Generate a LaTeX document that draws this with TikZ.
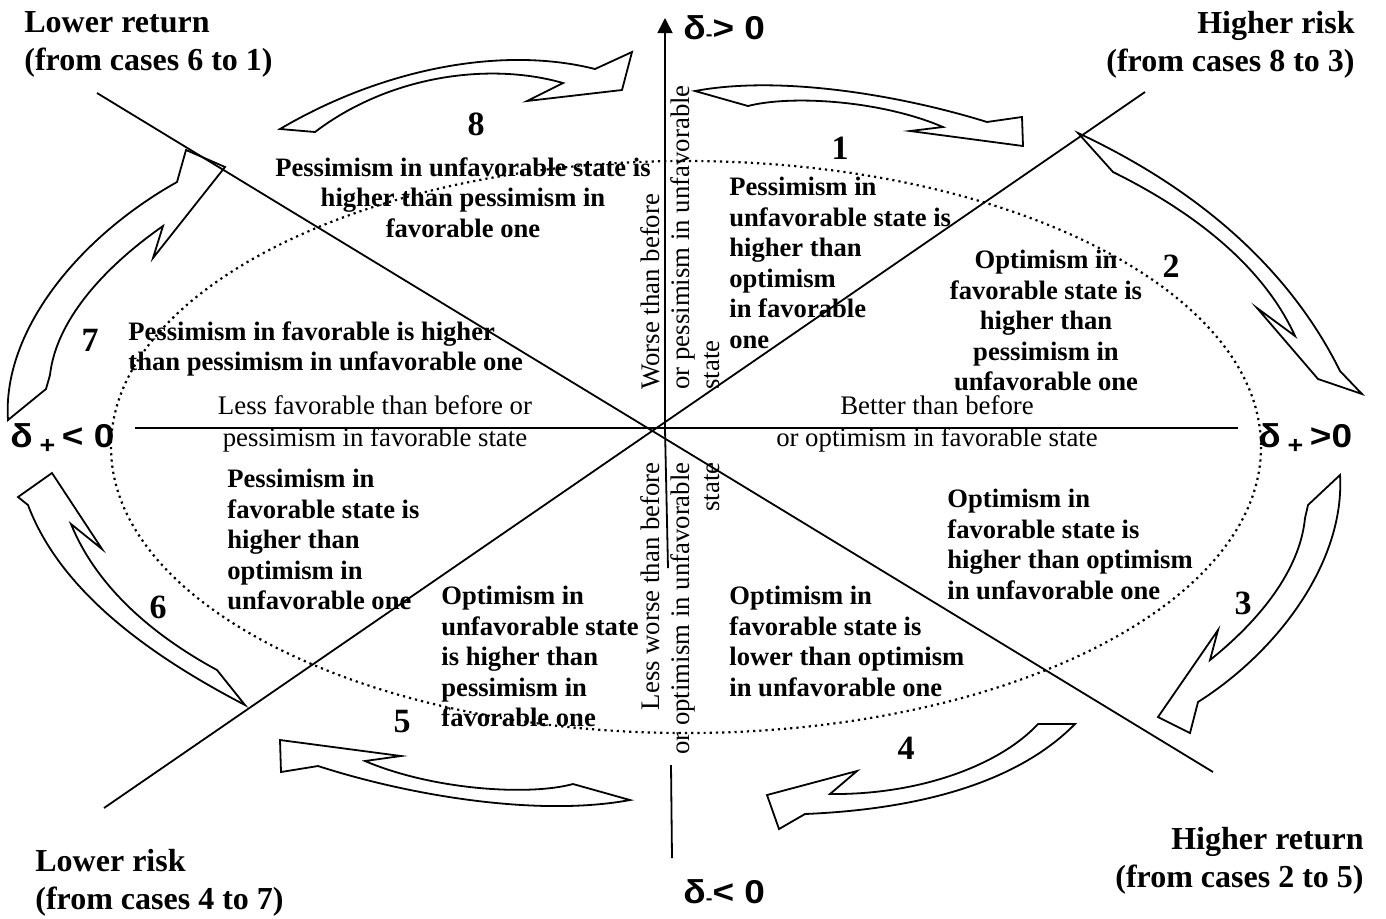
\documentclass[tikz,border=0pt]{standalone}
\usepackage{fontspec}
\setmainfont{Liberation Serif}
\setsansfont{Liberation Sans}
\usetikzlibrary{arrows.meta}
\newcommand{\dsb}[1]{\raisebox{-0.6pt}{\fontsize{9}{9}\selectfont #1}}
\newcommand{\dplus}{\raisebox{-3.4pt}{\fontsize{12}{12}\selectfont +}}
\tikzset{
  ax/.style={line width=0.9pt},
  barrow/.style={draw, line width=0.9pt, line join=miter},
  ell/.style={dotted, line width=1.1pt},
  body/.style={font=\fontsize{13.3}{15.25}\selectfont\bfseries, inner sep=0pt},
  axtxt/.style={font=\fontsize{13.4}{16}\selectfont, inner sep=0pt, align=center},
  vtxt/.style={font=\fontsize{13.4}{15}\selectfont, inner sep=0pt, rotate=90},
  corner/.style={font=\fontsize{16}{19}\selectfont\bfseries, inner sep=0pt},
  num/.style={font=\fontsize{17}{19}\selectfont\bfseries, inner sep=0pt},
  dlab/.style={font=\sffamily\bfseries\fontsize{16.5}{19}\selectfont, inner sep=0pt},
}
\begin{document}
\begin{tikzpicture}[x=0.5pt,y=-0.5pt]
\useasboundingbox (0,0) rectangle (1386,918);

% coordinates
\coordinate (C) at (665,429);
\coordinate (Vtop) at (665,18);
\coordinate (Vlow) at (668,568);
\coordinate (Vb1) at (671,765);
\coordinate (Vb2) at (672,858);
\coordinate (Hl) at (135,428);
\coordinate (Hr) at (1238,428);
\coordinate (A1) at (97,93);
\coordinate (A2) at (1213,772);
\coordinate (B1) at (104,808);
\coordinate (B2) at (1145,92);

% dotted ellipse
\draw[ell] (686,447) ellipse [x radius=575, y radius=286];

% axes
\draw[ax,-{Triangle[length=7.5pt,width=7.5pt]}] (C) -- (Vtop);
\draw[ax] (C) -- (Vlow);
\draw[ax] (Vb1) -- (Vb2);
\draw[ax] (Hl) -- (Hr);
\draw[ax] (A1) -- (A2);
\draw[ax] (B1) -- (B2);

% block arrows
% 8
\draw[barrow] (280,129) .. controls (380,70) and (500,45) .. (595,69) -- (632,52) -- (622,90) -- (527,101) -- (563,83) .. controls (490,62) and (390,75) .. (315,132) -- cycle;
% 1
\draw[barrow] (695,91) .. controls (780,75) and (900,95) .. (987,122) -- (1022,117) -- (1023,146) -- (910,131) -- (943,127) .. controls (880,100) and (790,95) .. (748,106) -- cycle;
% 2
\draw[barrow] (1078,133) .. controls (1200,190) and (1290,270) .. (1340,371) -- (1362,394) -- (1318,379) -- (1257,308) -- (1295,336) .. controls (1265,270) and (1200,215) .. (1113,172) -- cycle;
% 3
\draw[barrow] (1340,475) .. controls (1345,560) and (1280,650) .. (1198,702) -- (1190,733) -- (1158,717) -- (1218,630) -- (1210,660) .. controls (1260,620) and (1300,570) .. (1305,518) -- (1308,505) -- cycle;
% 4
\draw[barrow] (1038,724) .. controls (1000,765) and (920,795) .. (830,794) -- (857,771) -- (767,795) -- (779,829) -- (805,814) .. controls (900,810) and (1010,790) .. (1075,724) -- cycle;
% 5
\draw[barrow] (630,800) .. controls (539,817) and (411,796) .. (318,766) -- (281,772) -- (280,740) -- (401,756) -- (365,761) .. controls (433,790) and (529,796) .. (573,784) -- cycle;
% 6
\draw[barrow] (245,705) .. controls (147,654) and (60,590) .. (28,505) -- (18,497) -- (52,473) -- (102,549) -- (71,524) .. controls (95,583) and (147,632) .. (217,670) -- cycle;
% 7
\draw[barrow] (8,420) .. controls (2,331) and (79,237) .. (177,182) -- (186,150) -- (225,167) -- (153,258) -- (163,226) .. controls (103,268) and (56,321) .. (50,375) -- (46,389) -- cycle;

% delta labels
\node[dlab, anchor=base west] (dtop) at (683,39) {\scalebox{1.12}[1]{δ\dsb{-}> 0}};
\node[dlab, anchor=base west] (dbot) at (683,903) {\scalebox{1.12}[1]{δ\dsb{-}< 0}};
\node[dlab, anchor=base west] (dleft) at (10,447) {\scalebox{1.12}[1]{δ\hspace{3pt}\dplus\hspace{3pt}< 0}};
\node[dlab, anchor=base west] (dright) at (1258,447) {\scalebox{1.12}[1]{δ\hspace{3pt}\dplus\hspace{3pt}>0}};

% corner labels
\node[corner, align=left, anchor=north west] (lr) at (24,11) {Lower return\\(from cases 6 to 1)};
\node[corner, align=right, anchor=north east] (hr) at (1355,11) {Higher risk\\(from cases 8 to 3)};
\node[corner, align=right, anchor=north east] (hret) at (1364,827) {Higher return\\(from cases 2 to 5)};
\node[corner, align=left, anchor=north west] (lrisk) at (35,849) {Lower risk\\(from cases 4 to 7)};

% numbers
\node[num] (n1) at (840,148) {1};
\node[num] (n2) at (1171,266) {2};
\node[num] (n3) at (1243,603) {3};
\node[num] (n4) at (906,748) {4};
\node[num] (n5) at (402,722) {5};
\node[num] (n6) at (158,607) {6};
\node[num] (n7) at (90,340) {7};
\node[num] (n8) at (476,124) {8};

% region texts
\node[body, align=center, anchor=north] (t8) at (463,157) {Pessimism in unfavorable state is\\higher than pessimism in\\favorable one};
\node[body, align=left, anchor=north west] (t1) at (729,177) {Pessimism in\\unfavorable state is\\higher than\\optimism\\in favorable\\one};
\node[body, align=center, anchor=north] (t2) at (1046,250) {Optimism in\\favorable state is\\higher than\\pessimism in\\unfavorable one};
\node[body, align=left, anchor=north west] (t3) at (947,489) {Optimism in\\favorable state is\\higher than optimism\\in unfavorable one};
\node[body, align=left, anchor=north west] (t4) at (729,586) {Optimism in\\favorable state is\\lower than optimism\\in unfavorable one};
\node[body, align=left, anchor=north west] (t5) at (441,586) {Optimism in\\unfavorable state\\is higher than\\pessimism in\\favorable one};
\node[body, align=left, anchor=north west] (t6) at (227,469) {Pessimism in\\favorable state is\\higher than\\optimism in\\unfavorable one};
\node[body, align=left, anchor=north west] (t7) at (128,321) {Pessimism in favorable is higher\\than pessimism in unfavorable one};

% axis texts
\node[axtxt, anchor=north] (al) at (375,395) {Less favorable than before or\\pessimism in favorable state};
\node[axtxt, anchor=north] (ar) at (937,395) {Better than before\\or optimism in favorable state};
\node[vtxt, align=left, anchor=north west] (vt) at (640,390) {Worse than before\\or pessimism in unfavorable\\state};
\node[vtxt, align=right, anchor=north east] (vb) at (640,462) {Less worse than before\\or optimism in unfavorable\\state};
\end{tikzpicture}
\end{document}
